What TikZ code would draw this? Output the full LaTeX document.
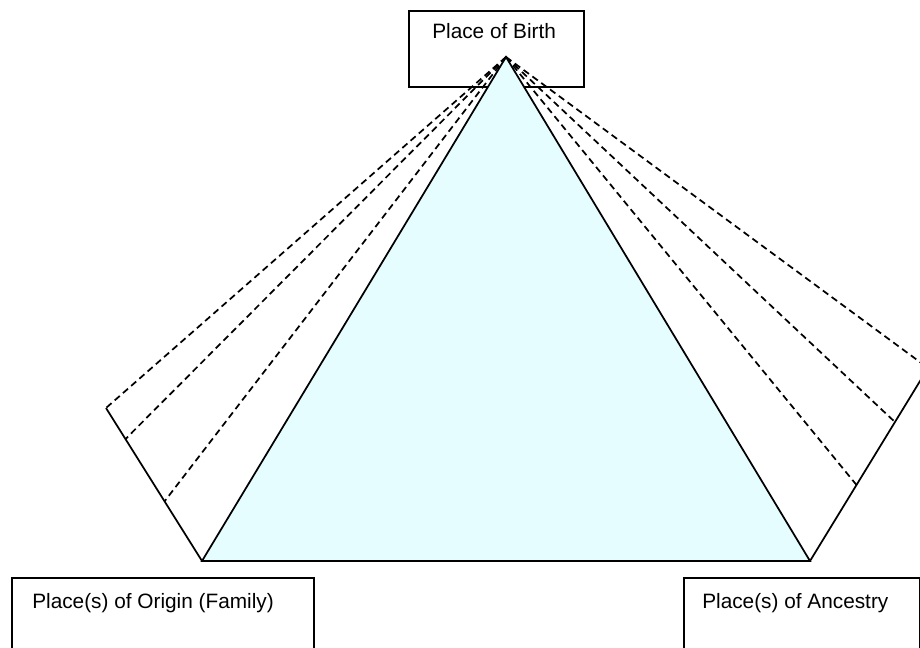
\documentclass[tikz,border=0pt]{standalone}
\usepackage{fontspec}
\setmainfont{Liberation Sans}
\usetikzlibrary{calc}
\definecolor{trifill}{RGB}{230,253,255}
\tikzset{
  boxshape/.style={draw=black, line width=1.5pt, fill=white, inner sep=0pt},
  lbl/.style={anchor=base west, inner sep=0pt, font=\fontsize{15.6pt}{18pt}\selectfont},
  side/.style={draw=black, line width=1.3pt},
  ray/.style={draw=black, line width=1.3pt, dash pattern=on 5pt off 3.2pt},
}
\begin{document}
\begin{tikzpicture}[x=0.75pt, y=-0.75pt]
\clip (0,0) rectangle (920,648);
% key points
\coordinate (apex) at (506,57);
\coordinate (bl) at (202,561);
\coordinate (br) at (810,561);
\coordinate (lc) at (106,408);
\coordinate (rc) at (928,368);
\coordinate (l2) at ($(bl)!0.797!(lc)$);
\coordinate (l3) at ($(bl)!0.39!(lc)$);
\coordinate (r2) at ($(br)!0.72!(rc)$);
\coordinate (r3) at ($(br)!0.394!(rc)$);
% top box (drawn first, triangle over it)
\node[boxshape, minimum width=131.25pt, minimum height=57pt] (birth) at (496.5,49) {};
\node[lbl] (birthtxt) at (432,39) {Place of Birth};
% triangle
\path[side, fill=trifill] (apex) -- (bl) -- (br) -- cycle;
% side lines
\draw[side] (bl) -- (lc);
\draw[side] (br) -- (rc);
% dashed rays
\draw[ray] (apex) -- (lc);
\draw[ray] (apex) -- (l2);
\draw[ray] (apex) -- (l3);
\draw[ray] (apex) -- (rc);
\draw[ray] (apex) -- (r2);
\draw[ray] (apex) -- (r3);
% bottom boxes
\node[boxshape, minimum width=226.5pt, minimum height=90pt, anchor=north west] (origin) at (11,577) {};
\node[lbl] (origintxt) at (32,608) {Place(s) of Origin (Family)};
\node[boxshape, minimum width=177pt, minimum height=90pt, anchor=north west] (ancestry) at (683,577) {};
\node[lbl] (ancestrytxt) at (702,608) {Place(s) of Ancestry};
\end{tikzpicture}
\end{document}
